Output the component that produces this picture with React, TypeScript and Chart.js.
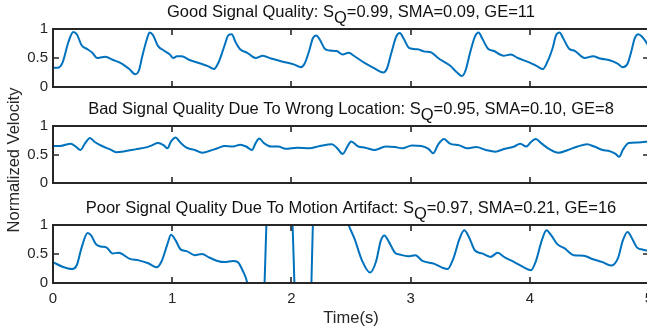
import React, { useEffect, useRef } from "react";
import { Chart, registerables } from "chart.js";

Chart.register(...registerables);

// ---------- data ----------
const X_TICKS = [0, 1, 2, 3, 4, 5];
const Y_TICKS = [0, 0.5, 1];
const X_LABEL = "Time(s)";
const Y_LABEL = "Normalized Velocity";

const TITLE_GOOD = ["Good Signal Quality: S", "Q", "=0.99, SMA=0.09, GE=11"];
const TITLE_BAD = ["Bad Signal Quality Due To Wrong Location: S", "Q", "=0.95, SMA=0.10, GE=8"];
const TITLE_POOR = ["Poor Signal Quality Due To Motion Artifact: S", "Q", "=0.97, SMA=0.21, GE=16"];

const GOOD_T = [
  0, 0.04, 0.08, 0.13, 0.17, 0.2, 0.24, 0.29, 0.33, 0.37,
  0.4, 0.44, 0.5, 0.58, 0.64, 0.69, 0.72, 0.75, 0.79, 0.81,
  0.84, 0.88, 0.93, 0.98, 1.01, 1.04, 1.08, 1.14, 1.23, 1.3,
  1.35, 1.39, 1.44, 1.47, 1.5, 1.53, 1.57, 1.63, 1.7, 1.76,
  1.83, 1.92, 2.02, 2.08, 2.11, 2.15, 2.18, 2.21, 2.24, 2.28,
  2.32, 2.38, 2.43, 2.48, 2.53, 2.61, 2.69, 2.77, 2.8, 2.84,
  2.88, 2.91, 2.94, 2.99, 3.06, 3.12, 3.17, 3.23, 3.33, 3.39,
  3.43, 3.46, 3.5, 3.54, 3.57, 3.6, 3.65, 3.7, 3.78, 3.84,
  3.9, 4.0, 4.06, 4.11, 4.14, 4.19, 4.22, 4.25, 4.28, 4.33,
  4.38, 4.46, 4.53, 4.59, 4.67, 4.74, 4.78, 4.82, 4.85, 4.88,
  4.91, 4.94, 5.0,
];
const GOOD_V = [
  0.33, 0.33, 0.42, 0.78, 0.95, 0.91, 0.72, 0.65, 0.59, 0.5,
  0.51, 0.52, 0.47, 0.4, 0.31, 0.22, 0.28, 0.54, 0.84, 0.94,
  0.89, 0.71, 0.63, 0.56, 0.5, 0.53, 0.53, 0.47, 0.41, 0.36,
  0.31, 0.43, 0.72, 0.89, 0.91, 0.78, 0.65, 0.59, 0.5, 0.54,
  0.49, 0.44, 0.39, 0.34, 0.4, 0.63, 0.84, 0.89, 0.81, 0.66,
  0.63, 0.62, 0.56, 0.59, 0.53, 0.42, 0.33, 0.25, 0.31, 0.6,
  0.87, 0.93, 0.84, 0.67, 0.65, 0.61, 0.6, 0.5, 0.37, 0.25,
  0.19, 0.28, 0.6, 0.87, 0.94, 0.84, 0.66, 0.62, 0.54, 0.56,
  0.5, 0.42, 0.36, 0.31, 0.4, 0.66, 0.89, 0.94, 0.84, 0.66,
  0.62, 0.5, 0.53, 0.49, 0.46, 0.4, 0.34, 0.4, 0.6, 0.84,
  0.91, 0.87, 0.7,
];

const BAD_T = [
  0, 0.06, 0.15, 0.19, 0.23, 0.27, 0.31, 0.35, 0.42, 0.48,
  0.53, 0.61, 0.69, 0.79, 0.83, 0.88, 0.93, 0.96, 0.99, 1.03,
  1.06, 1.12, 1.19, 1.25, 1.31, 1.38, 1.44, 1.51, 1.57, 1.62,
  1.67, 1.7, 1.73, 1.77, 1.83, 1.89, 1.95, 2.05, 2.15, 2.24,
  2.34, 2.38, 2.43, 2.47, 2.5, 2.56, 2.62, 2.7, 2.79, 2.87,
  2.93, 3.01, 3.09, 3.15, 3.19, 3.23, 3.28, 3.33, 3.41, 3.47,
  3.55, 3.63, 3.71, 3.79, 3.87, 3.92, 3.97, 4.01, 4.05, 4.1,
  4.16, 4.24, 4.32, 4.4, 4.48, 4.54, 4.61, 4.67, 4.72, 4.75,
  4.78, 4.83, 4.91, 5.0,
];
const BAD_V = [
  0.65, 0.65, 0.69, 0.64, 0.58, 0.7, 0.79, 0.72, 0.64, 0.59,
  0.54, 0.56, 0.59, 0.63, 0.66, 0.7, 0.66, 0.61, 0.73, 0.8,
  0.73, 0.62, 0.58, 0.53, 0.56, 0.61, 0.65, 0.64, 0.67, 0.64,
  0.58, 0.7, 0.78, 0.7, 0.64, 0.64, 0.6, 0.62, 0.61, 0.65,
  0.68, 0.62, 0.51, 0.64, 0.73, 0.64, 0.62, 0.58, 0.64, 0.63,
  0.61, 0.66, 0.65, 0.6, 0.52, 0.67, 0.77, 0.69, 0.66, 0.61,
  0.63, 0.58, 0.55, 0.6, 0.64, 0.69, 0.64, 0.72, 0.77, 0.69,
  0.6, 0.53, 0.58, 0.64, 0.68, 0.64, 0.58, 0.56, 0.51, 0.46,
  0.58, 0.7, 0.71, 0.73,
];

const POOR_T = [
  0, 0.08, 0.16, 0.2, 0.24, 0.29, 0.32, 0.36, 0.4, 0.45,
  0.5, 0.55, 0.58, 0.64, 0.72, 0.8, 0.87, 0.91, 0.96, 0.99,
  1.03, 1.07, 1.12, 1.19, 1.25, 1.31, 1.38, 1.44, 1.51, 1.55,
  1.59, 1.63, 1.66, 1.7, 1.74, 1.765, 1.775, 1.79, 1.81, 1.9,
  1.98, 2.01, 2.025, 2.04, 2.1, 2.155, 2.168, 2.18, 2.2, 2.32,
  2.42, 2.48, 2.53, 2.59, 2.66, 2.71, 2.75, 2.78, 2.82, 2.87,
  2.91, 2.98, 3.04, 3.1, 3.2, 3.26, 3.31, 3.36, 3.41, 3.45,
  3.49, 3.54, 3.6, 3.67, 3.73, 3.79, 3.87, 3.95, 4.01, 4.05,
  4.1, 4.14, 4.18, 4.23, 4.29, 4.37, 4.45, 4.53, 4.61, 4.68,
  4.74, 4.78, 4.82, 4.86, 4.9, 4.96, 5.0,
];
const POOR_V = [
  0.36, 0.28, 0.24, 0.31, 0.61, 0.86, 0.82, 0.67, 0.63, 0.61,
  0.51, 0.52, 0.5, 0.42, 0.39, 0.34, 0.27, 0.37, 0.67, 0.83,
  0.73, 0.58, 0.55, 0.48, 0.5, 0.44, 0.38, 0.36, 0.38, 0.36,
  0.22, 0.0, -0.4, -1.5, -1.5, -0.5, 0.0, 1.0, 2.0, 3.0,
  2.0, 1.0, 0.0, -1.0, -2.0, -1.0, 0.0, 1.0, 2.0, 2.5,
  1.4, 1.0, 0.76, 0.4, 0.18, 0.37, 0.73, 0.82, 0.7, 0.52,
  0.49, 0.46, 0.48, 0.38, 0.33, 0.27, 0.24, 0.43, 0.76, 0.91,
  0.79, 0.56, 0.51, 0.45, 0.52, 0.44, 0.36, 0.27, 0.22, 0.37,
  0.73, 0.91, 0.82, 0.67, 0.6, 0.48, 0.47, 0.41, 0.36, 0.3,
  0.43, 0.73, 0.88, 0.76, 0.61, 0.57, 0.55,
];

// ---------- layout / style ----------
const W = 700;
const H = 335;
const AREA_LEFT = 53;
const AREA_RIGHT = 649;
const FONT = "'Liberation Sans', Arial, Helvetica, sans-serif";
const AXIS_COLOR = "#262626";
const LINE_COLOR = "#0072BD";
const TICK_LEN = 6;

type Panel = {
  t: number[];
  v: number[];
  title: string[];
  top: number;
  bottom: number;
  showX: boolean;
  yLabel: boolean;
};

const PANELS: Panel[] = [
  { t: GOOD_T, v: GOOD_V, title: TITLE_GOOD, top: 29, bottom: 87, showX: false, yLabel: false },
  { t: BAD_T, v: BAD_V, title: TITLE_BAD, top: 126, bottom: 183, showX: false, yLabel: true },
  { t: POOR_T, v: POOR_V, title: TITLE_POOR, top: 225, bottom: 283, showX: true, yLabel: false },
];

const matlabAxes = {
  id: "matlabAxes",
  afterDraw(chart: any, _args: any, opts: any) {
    const { ctx, chartArea: a, scales } = chart;
    const xs = scales.x;
    const ys = scales.y;
    ctx.save();
    ctx.strokeStyle = AXIS_COLOR;
    ctx.lineWidth = 1.6;
    ctx.beginPath();
    X_TICKS.forEach((v) => {
      const px = Math.round(xs.getPixelForValue(v));
      ctx.moveTo(px, a.bottom);
      ctx.lineTo(px, a.bottom - TICK_LEN);
      ctx.moveTo(px, a.top);
      ctx.lineTo(px, a.top + TICK_LEN);
    });
    Y_TICKS.forEach((v) => {
      const py = Math.round(ys.getPixelForValue(v));
      ctx.moveTo(a.left, py);
      ctx.lineTo(a.left + TICK_LEN, py);
      ctx.moveTo(a.right, py);
      ctx.lineTo(a.right - TICK_LEN, py);
    });
    ctx.stroke();
    ctx.lineWidth = 2;
    ctx.strokeRect(a.left, a.top, a.right - a.left, a.bottom - a.top);

    // title with subscript
    const [pre, sub, post] = opts.title as string[];
    ctx.fillStyle = "#111";
    ctx.font = `16.5px ${FONT}`;
    ctx.textBaseline = "middle";
    ctx.textAlign = "left";
    const w1 = ctx.measureText(pre).width;
    const w2 = ctx.measureText(sub).width;
    const w3 = ctx.measureText(post).width;
    const cx = (a.left + a.right) / 2;
    const ty = a.top - 17;
    let x = cx - (w1 + w2 + w3) / 2;
    ctx.fillText(pre, x, ty);
    x += w1;
    ctx.fillText(sub, x, ty + 6);
    x += w2;
    ctx.fillText(post, x, ty);

    ctx.fillStyle = AXIS_COLOR;
    if (opts.yLabel) {
      ctx.save();
      ctx.translate(14, 160);
      ctx.rotate(-Math.PI / 2);
      ctx.textAlign = "center";
      ctx.fillText(Y_LABEL, 0, 0);
      ctx.restore();
    }
    if (opts.xLabel) {
      ctx.textAlign = "center";
      ctx.fillText(X_LABEL, cx, 318);
    }
    ctx.restore();
  },
};

function makeChart(canvas: HTMLCanvasElement, p: Panel) {
  return new Chart(canvas, {
    type: "line",
    data: {
      datasets: [
        {
          data: p.t.map((x, i) => ({ x, y: p.v[i] })),
          borderColor: LINE_COLOR,
          borderWidth: 2,
          pointRadius: 0,
          cubicInterpolationMode: "monotone",
          clip: 0,
          fill: false,
        } as any,
      ],
    },
    plugins: [matlabAxes],
    options: {
      animation: false,
      responsive: false,
      devicePixelRatio: 1,
      events: [],
      layout: {
        padding: {
          top: p.top,
          bottom: p.showX ? 0 : H - p.bottom,
          left: 0,
          right: W - AREA_RIGHT,
        },
      },
      plugins: {
        legend: { display: false },
        tooltip: { enabled: false },
        title: { display: false },
        matlabAxes: { title: p.title, yLabel: p.yLabel, xLabel: p.showX },
      } as any,
      scales: {
        x: {
          type: "linear",
          min: 0,
          max: 5,
          display: p.showX,
          afterFit: (s: any) => {
            s.height = p.showX ? H - p.bottom : 0;
          },
          afterBuildTicks: (s: any) => {
            s.ticks = X_TICKS.map((value) => ({ value }));
          },
          grid: { display: false, drawTicks: false },
          border: { display: false },
          ticks: {
            padding: 7,
            color: AXIS_COLOR,
            font: { size: 15, family: FONT },
            maxRotation: 0,
            autoSkip: false,
            callback: (v: any) => String(v),
          },
        },
        y: {
          type: "linear",
          min: 0,
          max: 1,
          afterFit: (s: any) => {
            s.width = AREA_LEFT;
          },
          afterBuildTicks: (s: any) => {
            s.ticks = Y_TICKS.map((value) => ({ value }));
          },
          grid: { display: false, drawTicks: false },
          border: { display: false },
          ticks: {
            padding: 5,
            color: AXIS_COLOR,
            font: { size: 15, family: FONT },
            callback: (v: any) => String(v),
          },
        },
      },
    } as any,
  });
}

export default function App() {
  const r1 = useRef<HTMLCanvasElement>(null);
  const r2 = useRef<HTMLCanvasElement>(null);
  const r3 = useRef<HTMLCanvasElement>(null);

  useEffect(() => {
    const refs = [r1, r2, r3];
    const charts = PANELS.map((p, i) => makeChart(refs[i].current as HTMLCanvasElement, p));
    return () => charts.forEach((c) => c.destroy());
  }, []);

  const cstyle: React.CSSProperties = {
    position: "absolute",
    left: 0,
    top: 0,
    width: W,
    height: H,
  };

  return (
    <div
      style={{
        position: "fixed",
        left: 0,
        top: 0,
        width: 647,
        height: 335,
        overflow: "hidden",
        background: "#fff",
      }}
    >
      <canvas ref={r1} width={W} height={H} style={cstyle} />
      <canvas ref={r2} width={W} height={H} style={cstyle} />
      <canvas ref={r3} width={W} height={H} style={cstyle} />
    </div>
  );
}
